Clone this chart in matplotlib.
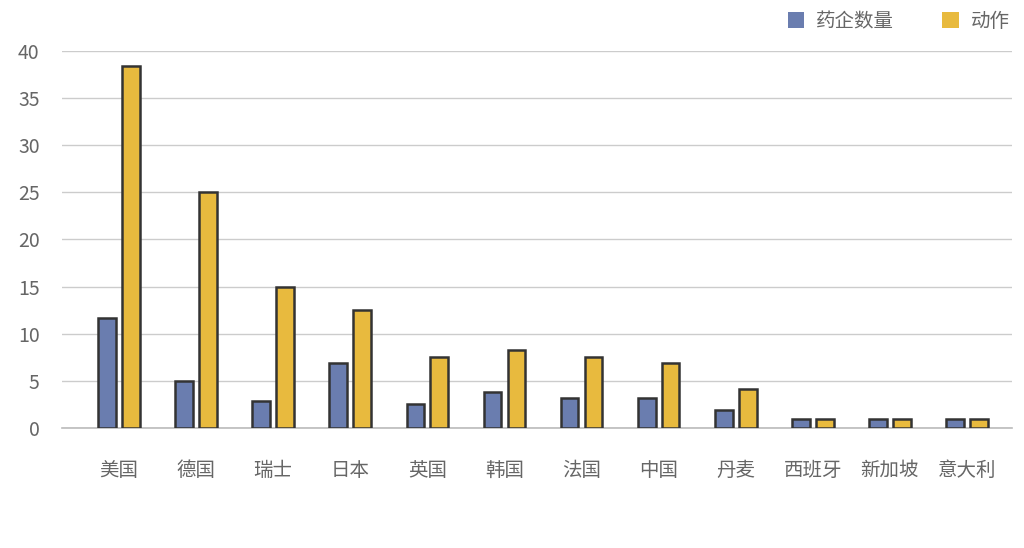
import matplotlib

matplotlib.use("Agg")
import matplotlib.pyplot as plt
import numpy as np
from matplotlib.patches import Patch

plt.rcParams["font.family"] = ["Noto Sans CJK SC", "DejaVu Sans"]

countries = ["美国", "德国", "瑞士", "日本", "英国", "韩国", "法国", "中国", "丹麦", "西班牙", "新加坡", "意大利"]
pharma_count = [11.7, 5.0, 2.9, 6.9, 2.5, 3.8, 3.2, 3.2, 1.9, 1.0, 1.0, 1.0]
actions = [38.4, 25.0, 15.0, 12.5, 7.5, 8.3, 7.5, 6.9, 4.1, 1.0, 1.0, 1.0]
series_names = ["药企数量", "动作"]

BLUE = "#6a7daf"
YELLOW = "#e8ba3e"
EDGE = "#333333"
TEXT = "#666666"

fig = plt.figure(figsize=(10.24, 5.48), dpi=100)
ax = fig.add_axes([0.0605, 0.219, 0.9275, 0.688])

x = np.arange(len(countries))
w = 0.23
off = 0.155
ax.bar(x - off, pharma_count, w, color=BLUE, edgecolor=EDGE, linewidth=1.8, zorder=3)
ax.bar(x + off, actions, w, color=YELLOW, edgecolor=EDGE, linewidth=1.8, zorder=3)

ax.set_xlim(-0.74, 11.58)
ax.set_ylim(0, 40)
ax.set_yticks(range(0, 41, 5))
ax.set_xticks(x)
ax.set_xticklabels(countries)
ax.yaxis.grid(True, color="#cccccc", linewidth=1, zorder=0)
ax.axhline(0, color="#bbbbbb", linewidth=1.2, zorder=2, clip_on=False)
for s in ax.spines.values():
    s.set_visible(False)
ax.tick_params(axis="both", length=0, colors=TEXT, labelsize=14)
ax.tick_params(axis="y", pad=16)
ax.tick_params(axis="x", pad=23)

handles = [Patch(facecolor=BLUE, edgecolor="none"), Patch(facecolor=YELLOW, edgecolor="none")]
leg = fig.legend(handles, series_names, loc="upper right", bbox_to_anchor=(1.003, 1.012),
                 ncol=2, frameon=False, fontsize=14, handlelength=0.85, handleheight=0.85,
                 handletextpad=0.6, columnspacing=2.5)
for t in leg.get_texts():
    t.set_color(TEXT)

fig.savefig("out.png", dpi=100)
